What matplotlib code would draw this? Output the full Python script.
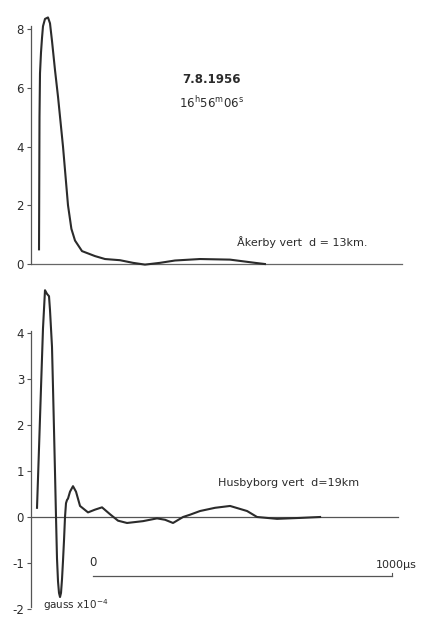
import matplotlib
matplotlib.use("Agg")
import matplotlib.pyplot as plt

plt.rcParams['axes.unicode_minus'] = False

# time in microseconds from the left axis, field in gauss x 10^-4
akerby_t = [26.8, 28.4, 30.1, 33.4, 36.8, 40.1, 46.8, 56.8, 63.5, 70.2, 80.3, 90.3,
            107.0, 123.7, 135.0, 147.1, 170.5, 214.0, 247.5, 297.6, 341.0, 381.0,
            431.0, 481.5, 565.0, 665.0, 749.0, 782.0]
akerby_b = [0.5, 5.0, 6.5, 7.2, 7.7, 8.1, 8.35, 8.4, 8.2, 7.6, 6.6, 5.7,
            4.0, 2.0, 1.2, 0.8, 0.44, 0.27, 0.17, 0.13, 0.04, -0.02,
            0.04, 0.12, 0.17, 0.15, 0.04, 0.0]

husby_t = [20.1, 26.8, 33.4, 40.1, 46.8, 53.5, 60.2, 63.5, 70.2, 73.6, 76.9, 80.3,
           83.6, 86.9, 90.3, 93.6, 97.0, 100.3, 103.7, 107.0, 110.4, 113.7, 117.0,
           120.4, 123.7, 130.4, 140.4, 150.5, 163.9, 190.6, 214.0, 237.4, 264.2,
           290.9, 321.0, 374.5, 421.3, 448.1, 474.8, 508.3, 531.7, 565.1, 615.3,
           665.5, 722.3, 755.7, 822.6, 899.5, 966.4]
husby_b = [0.2, 1.5, 2.8, 4.1, 4.93, 4.85, 4.8, 4.5, 3.7, 2.8, 1.9, 0.95,
           0.0, -0.9, -1.4, -1.65, -1.74, -1.65, -1.35, -0.95, -0.5, 0.0, 0.3,
           0.37, 0.4, 0.55, 0.67, 0.55, 0.24, 0.1, 0.16, 0.21, 0.06,
           -0.08, -0.13, -0.09, -0.03, -0.06, -0.13, 0.0, 0.05, 0.13, 0.2,
           0.24, 0.13, 0.0, -0.04, -0.02, 0.0]

top_ticks = [0, 2, 4, 6, 8]
bottom_ticks = [-2, -1, 0, 1, 2, 3, 4]
scale_bar = [207, 1207]

ink = '#2b2b2b'
fig = plt.figure(figsize=(4.22, 6.17), dpi=100)

ax1 = fig.add_axes([31 / 422, 1 - 278.7 / 617, 379 / 422, 273.0 / 617])
ax2 = fig.add_axes([31 / 422, 1 - 615.9 / 617, 379 / 422, 335.8 / 617])

for ax in (ax1, ax2):
    ax.patch.set_alpha(0)
    for s in ('top', 'right', 'bottom'):
        ax.spines[s].set_visible(False)
    ax.spines['left'].set_color('#555555')
    ax.spines['left'].set_linewidth(0.9)
    ax.set_xticks([])
    ax.tick_params(axis='y', length=3, width=0.8, color='#555555', pad=2,
                   labelsize=8.5, labelcolor=ink)
    ax.set_xlim(0, 1267)

# upper record
ax1.set_ylim(-0.5, 8.8)
ax1.set_yticks(top_ticks)
ax1.spines['left'].set_bounds(0, 8.1)
ax1.plot([0, 1241], [0, 0], color='#666666', lw=0.9)
ax1.plot(akerby_t, akerby_b, color=ink, lw=1.5, solid_joinstyle='round')
ax1.text(605, 6.3, '7.8.1956', fontsize=8.5, color=ink, ha='center', va='center',
         fontweight='bold')
ax1.text(605, 5.5, r'$\mathregular{16^h56^m06^s}$', fontsize=8.5, color=ink,
         ha='center', va='center')
ax1.text(690, 0.75, 'Åkerby vert  d = 13km.', fontsize=8, color=ink, va='center')

# lower record
ax2.set_ylim(-2.15, 5.15)
ax2.set_yticks(bottom_ticks)
ax2.spines['left'].set_bounds(-1.95, 4.05)
ax2.plot([-5, 1227], [0, 0], color='#555555', lw=0.9)
ax2.plot(husby_t, husby_b, color=ink, lw=1.5, solid_joinstyle='round')
ax2.text(625, 0.75, 'Husbyborg vert  d=19km', fontsize=8, color=ink, va='center')
ax2.text(40, -1.92, r'gauss x10$^{-4}$', fontsize=7.5, color=ink, va='center')

ax2.plot(scale_bar, [-1.28, -1.28], color='#555555', lw=0.9)
ax2.plot([scale_bar[1]] * 2, [-1.28, -1.22], color='#555555', lw=0.8)
ax2.text(scale_bar[0], -1.0, '0', fontsize=8.5, color=ink, ha='center', va='center')
ax2.text(1290, -1.05, '1000µs', fontsize=8, color=ink, ha='right', va='center',
         clip_on=False)

fig.savefig('out.png', dpi=100)
